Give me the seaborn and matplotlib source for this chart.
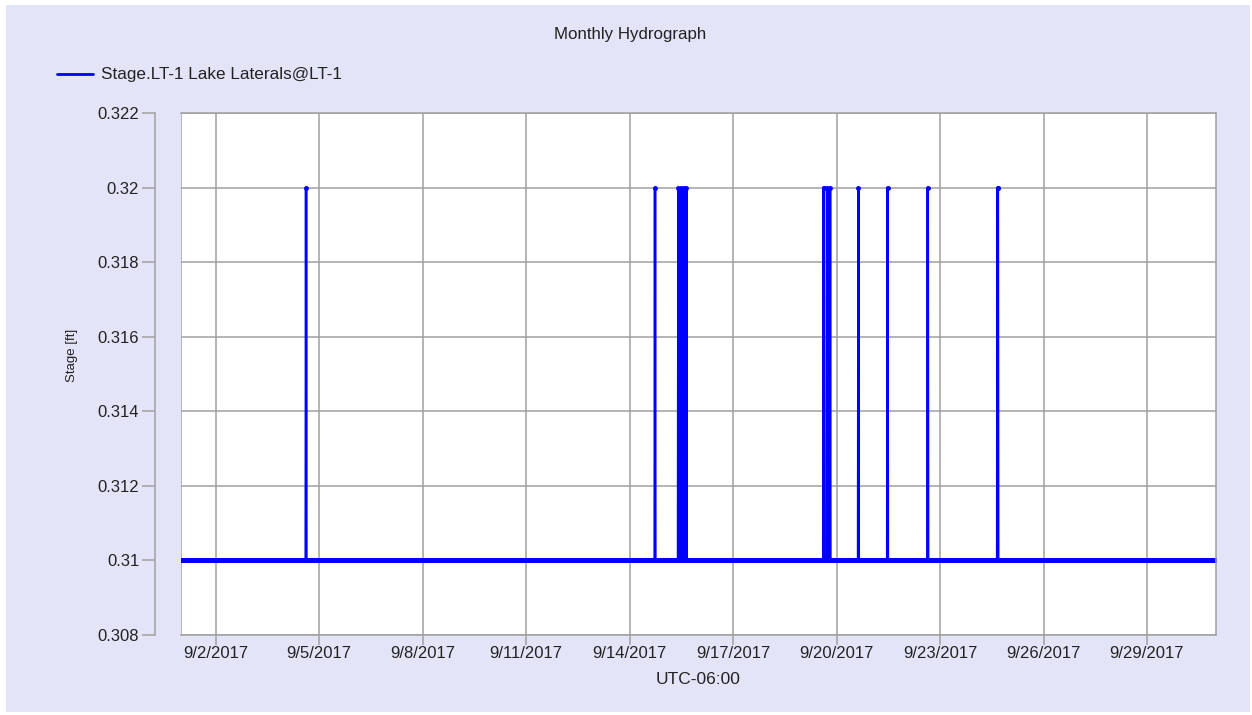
import numpy as np
import pandas as pd
import matplotlib
matplotlib.use("Agg")
import matplotlib.pyplot as plt
import matplotlib.dates as mdates
from matplotlib.ticker import FuncFormatter
from matplotlib.patches import Rectangle
import seaborn as sns

# data: baseline stage and the times it jumps to 0.32 ft
start = "2017-09-01 00:00"
end = "2017-10-01 00:00"
base_stage = 0.31
peak_stage = 0.32
peak_times = [
    "2017-09-04 15:00",
    "2017-09-14 17:45",
    "2017-09-15 10:00", "2017-09-15 12:00", "2017-09-15 14:00",
    "2017-09-15 15:30",
    "2017-09-19 15:00", "2017-09-19 15:15", "2017-09-19 17:30",
    "2017-09-19 19:30",
    "2017-09-20 15:15",
    "2017-09-21 11:30",
    "2017-09-22 15:30",
    "2017-09-24 16:00", "2017-09-24 16:15",
]
y_ticks = [0.308, 0.31, 0.312, 0.314, 0.316, 0.318, 0.32, 0.322]
x_ticks = ["2017-09-02", "2017-09-05", "2017-09-08", "2017-09-11", "2017-09-14",
           "2017-09-17", "2017-09-20", "2017-09-23", "2017-09-26", "2017-09-29"]

# 15 minute record
times = pd.date_range(start, end, freq="15min")
stage = pd.Series(base_stage, index=times)
stage[pd.to_datetime(peak_times)] = peak_stage
df = pd.DataFrame({"time": times, "stage": stage.values})

sns.set_style("white")
plt.rcParams["font.family"] = ["Liberation Sans", "DejaVu Sans"]

bg = "#e4e4f8"
txt = "#222222"
grid_c = "#a0a0a0"
fig = plt.figure(figsize=(12.52, 7.15), dpi=100, facecolor="white")
fig.patches.append(Rectangle((6 / 1252, 1 - 712 / 715), 1244 / 1252, 707 / 715,
                             transform=fig.transFigure, facecolor=bg,
                             edgecolor="none", zorder=-1))
ax = fig.add_axes([181 / 1252, 1 - 635 / 715, 1035 / 1252, 522 / 715])
ax.set_facecolor("white")

sns.lineplot(data=df, x="time", y="stage", ax=ax, color="#0000ff",
             linewidth=1.8, marker="o", markersize=3.5, markeredgewidth=0,
             estimator=None, label="Stage.LT-1 Lake Laterals@LT-1", legend=False)

ax.set_xlim(pd.Timestamp(start), pd.Timestamp(end))
ax.set_ylim(0.308, 0.322)
ax.set_yticks(y_ticks)
ax.yaxis.set_major_formatter(FuncFormatter(lambda v, p: "%g" % round(v, 3)))
ax.set_xticks(pd.to_datetime(x_ticks))
ax.xaxis.set_major_formatter(
    FuncFormatter(lambda v, p: "{d.month}/{d.day}/{d.year}".format(d=mdates.num2date(v))))

ax.grid(True, color=grid_c, linewidth=1.1)
for s in ax.spines.values():
    s.set_color(grid_c)
    s.set_linewidth(1.1)
# y axis sits apart from the plot area (26 px = 18.7 pt)
ax.spines["left"].set_position(("outward", 18.7))
ax.axvline(pd.Timestamp(start), color=grid_c, linewidth=1.1, zorder=1)

ax.tick_params(axis="both", colors=grid_c, labelcolor=txt, labelsize=12,
               width=1.1, direction="out", left=True, bottom=True)
ax.tick_params(axis="y", length=9.4, pad=2)
ax.tick_params(axis="x", length=7, pad=1)
ax.set_xlabel("UTC-06:00", fontsize=12.5, color=txt, labelpad=8)
ax.set_ylabel("Stage [ft]", fontsize=9.5, color=txt)
ax.yaxis.set_label_coords(-0.0995, 0.536)

fig.text(630 / 1252, 1 - 34 / 715, "Monthly Hydrograph", ha="center", va="center",
         fontsize=12.2, color=txt)
h, l = ax.get_legend_handles_labels()
fig.legend(h, l, loc="center left", bbox_to_anchor=(57 / 1252, 1 - 75 / 715),
           frameon=False, fontsize=12.3, handlelength=2.1, handletextpad=0.5,
           borderpad=0, borderaxespad=0, labelcolor=txt)
for line in fig.legends[0].get_lines():
    line.set_marker("")
    line.set_linewidth(2)

fig.savefig("out.png", dpi=100, facecolor=fig.get_facecolor())
